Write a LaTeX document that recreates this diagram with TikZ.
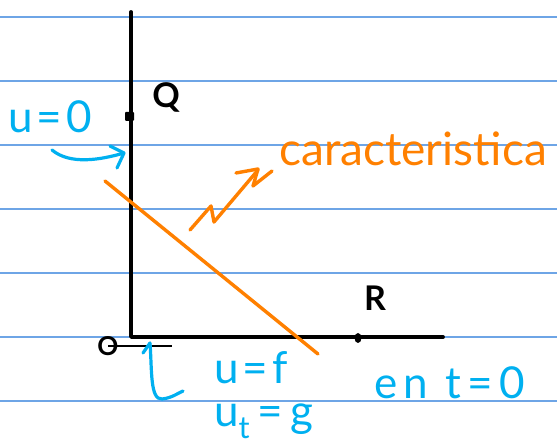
\documentclass[tikz,border=0pt]{standalone}
\usepackage{fontspec}
\usetikzlibrary{shapes.geometric}
\setmainfont{Lato}
\definecolor{ruled}{RGB}{110,165,230}
\definecolor{ink}{RGB}{0,176,240}
\definecolor{orng}{RGB}{255,128,0}
\begin{document}
\begin{tikzpicture}[x=1pt,y=-1pt,
  rule/.style={ruled,line width=1.3pt},
  axis/.style={black,line width=3.8pt,line join=round,line cap=round},
  blue/.style={ink,line width=3.2pt,line cap=round,line join=round},
  orng line/.style={orng,line width=3.4pt,line cap=round,line join=round},
  bluetxt/.style={text=ink,inner sep=0pt,font=\fontsize{44}{44}\selectfont\addfontfeature{LetterSpace=9}},
  blacktxt/.style={text=black,inner sep=0pt,font=\fontsize{34}{34}\selectfont\bfseries}]
\useasboundingbox (0,0) rectangle (557,446);
\fill[white] (0,0) rectangle (557,446);
% notebook rules
\foreach \y in {17,81,145,209,273,337,401}
  \draw[rule] (0,\y) -- (557,\y);
% axes
\coordinate (top) at (131,12);
\coordinate (origin) at (131,337);
\coordinate (right) at (443,337);
\draw[axis] (top) -- (origin) -- (right);
% Q tick and R dot
\fill[rounded corners=1pt] (125,112) rectangle (134,121);
\node[ellipse,fill=black,inner sep=0pt,minimum width=7pt,minimum height=10pt] (Rdot) at (358,338) {};
\node[blacktxt] (Q) at (166,97) {Q};
\node[blacktxt] (R) at (375,298) {R};
% O with short line
\node[text=black,inner sep=0pt,font=\fontsize{26}{26}\selectfont\bfseries] (O) at (108,346) {O};
\coordinate (oend) at (172,346);
\draw[black,line width=2.8pt] (O.center) -- (oend);
% characteristic line
\coordinate (c1) at (105,181);
\coordinate (c2) at (318,354);
\draw[orng line] (c1) -- (c2);
% zigzag arrow
\coordinate (z1) at (190,230);
\coordinate (z2) at (211,206);
\coordinate (z3) at (214,222);
\coordinate (z4) at (258,170);
\draw[orng line] (z1) -- (z2) -- (z3) -- (z4);
\draw[orng line] (236,173) -- (258,169) -- (253,186) -- (272,171);
\node[text=orng,inner sep=0pt,anchor=base west,font=\fontsize{46}{46}\selectfont] (car) at (279,166) {caracteristica};
% blue labels
\node[bluetxt,anchor=base west] (u0) at (8,133) {u=0};
\node[bluetxt,anchor=base west] (uf) at (214,384) {u=f};
\node[bluetxt,anchor=base west,font=\fontsize{44}{44}\selectfont] (ut) at (214,426) {u\textsubscript{t}\,=\,g};
\node[bluetxt,anchor=base west,font=\fontsize{44}{44}\selectfont\addfontfeature{LetterSpace=14}] (en) at (374,398) {en t=0};
% blue arrow to the vertical axis
\coordinate (a1) at (52,150);
\coordinate (a2) at (124,153);
\draw[blue] (a1) .. controls (70,165) and (100,160) .. (a2);
\draw[blue] (110,146) -- (124,153) -- (117,168);
% blue hook arrow under origin
\coordinate (h1) at (150,343);
\coordinate (h2) at (183,391);
\draw[blue] (h1) .. controls (152,370) and (150,400) .. (162,399) .. controls (172,398) and (178,393) .. (h2);
\draw[blue] (143,353) -- (h1);
\end{tikzpicture}
\end{document}
